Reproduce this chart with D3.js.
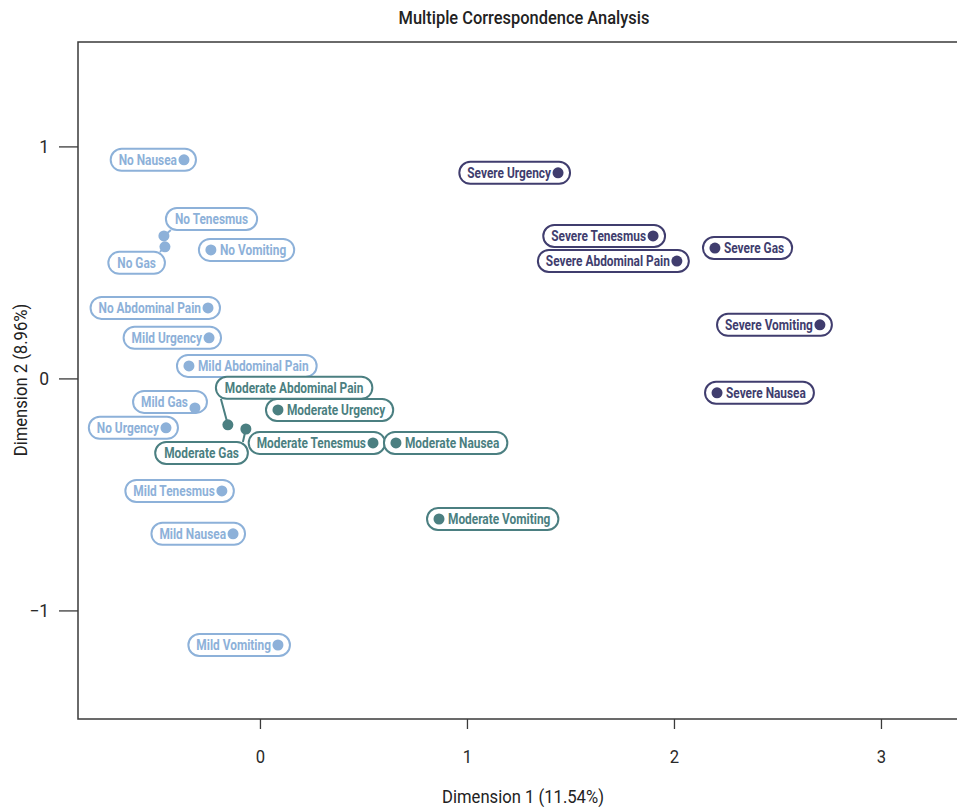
<!DOCTYPE html>
<html><head><meta charset="utf-8">
<script src="https://cdn.jsdelivr.net/npm/d3@7"></script>
<style>
html,body{margin:0;padding:0;background:#fff;overflow:hidden;}
svg{display:block;}
</style></head>
<body>
<script>
// ---- data ----
const categories = ["No Nausea","No Tenesmus","No Gas","No Vomiting","No Abdominal Pain","Mild Urgency","Mild Abdominal Pain","Mild Gas","No Urgency","Mild Tenesmus","Mild Nausea","Mild Vomiting","Moderate Abdominal Pain","Moderate Urgency","Moderate Gas","Moderate Tenesmus","Moderate Nausea","Moderate Vomiting","Severe Urgency","Severe Tenesmus","Severe Abdominal Pain","Severe Gas","Severe Vomiting","Severe Nausea"];
const dim1 = [-0.367,-0.464,-0.459,-0.237,-0.251,-0.246,-0.343,-0.314,-0.454,-0.184,-0.130,0.087,-0.155,0.087,-0.068,0.546,0.657,0.865,1.440,1.899,2.014,2.198,2.705,2.208];
const dim2 = [0.942,0.614,0.567,0.554,0.304,0.175,0.054,-0.127,-0.213,-0.485,-0.670,-1.149,-0.200,-0.136,-0.218,-0.278,-0.278,-0.606,0.886,0.614,0.506,0.562,0.231,-0.062];
const groups = ["low","low","low","low","low","low","low","low","low","low","low","low","moderate","moderate","moderate","moderate","moderate","moderate","severe","severe","severe","severe","severe","severe"];
const xTicks = [0,1,2,3];
const yTicks = [-1,0,1];
const chartTitle = "Multiple Correspondence Analysis";
const xTitle = "Dimension 1 (11.54%)";
const yTitle = "Dimension 2 (8.96%)";

// ---- layout / style (not data) ----
const colors = {low:"#8db1d9", moderate:"#4b7f81", severe:"#403d6e"};
// label placement: R = dot at right end of pill, L = dot at left end, C = callout box with offset
const placement = {
  "No Nausea":{t:"R"}, "No Tenesmus":{t:"C",anchor:"left",dx:2,dy:-17},
  "No Gas":{t:"C",anchor:"right",dx:0,dy:16}, "No Vomiting":{t:"L"},
  "No Abdominal Pain":{t:"R"}, "Mild Urgency":{t:"R"}, "Mild Abdominal Pain":{t:"L"},
  "Mild Gas":{t:"R",dy:-6}, "No Urgency":{t:"R"}, "Mild Tenesmus":{t:"R"},
  "Mild Nausea":{t:"R"}, "Mild Vomiting":{t:"R"},
  "Moderate Abdominal Pain":{t:"C",anchor:"left",dx:-12,dy:-37},
  "Moderate Urgency":{t:"L"}, "Moderate Gas":{t:"C",anchor:"right",dx:2,dy:24},
  "Moderate Tenesmus":{t:"R"}, "Moderate Nausea":{t:"L"}, "Moderate Vomiting":{t:"L"},
  "Severe Urgency":{t:"R"}, "Severe Tenesmus":{t:"R"}, "Severe Abdominal Pain":{t:"R"},
  "Severe Gas":{t:"L"}, "Severe Vomiting":{t:"R"}, "Severe Nausea":{t:"L"}
};

const W = 957, H = 807;
const mLeft = 78, mTop = 42, mBottom = 719, mRight = 1000;
const font = "Roboto,'Liberation Sans',sans-serif";
const labelSize = 14.5, titleSize = 17.5, axisSize = 17.5;

const svg = d3.select("body").append("svg").attr("width",W).attr("height",H);

// measure helper to get a horizontal condense factor matching the reference's narrow typeface
function measure(str, size, weight) {
  const t = svg.append("text").text(str).style("font-family",font)
    .style("font-size",size+"px").style("font-weight",weight);
  const w = t.node().getComputedTextLength();
  t.remove();
  return w;
}
const kLabel = 124 / measure("Severe Abdominal Pain", labelSize, "bold");
const kTitle = 251 / measure(chartTitle, titleSize, 500);
const kAxis = 162 / measure(xTitle, axisSize, "normal");

function ctext(parent, str, xx, yy, k, size, weight, fill, anchor) {
  const g = parent.append("g").attr("transform",`translate(${xx},${yy}) scale(${k},1)`);
  g.append("text").text(str).attr("text-anchor",anchor||"start")
    .style("font-family",font).style("font-size",size+"px").style("font-weight",weight)
    .attr("fill",fill);
  return g;
}

const x = d3.scaleLinear().domain([-0.879, 3.575]).range([mLeft, mRight]);
const y = d3.scaleLinear().domain([-1.468, 1.450]).range([mBottom, mTop]);

// frame
svg.append("rect").attr("x",mLeft).attr("y",mTop).attr("width",mRight-mLeft).attr("height",mBottom-mTop)
  .attr("fill","none").attr("stroke","#3a3a3a").attr("stroke-width",1.5);

const xa = svg.append("g").attr("transform",`translate(0,${mBottom})`)
  .call(d3.axisBottom(x).tickValues(xTicks).tickFormat(d3.format("d")).tickSize(10).tickPadding(22));
const ya = svg.append("g").attr("transform",`translate(${mLeft},0)`)
  .call(d3.axisLeft(y).tickValues(yTicks).tickFormat(d3.format("d")).tickSize(19).tickPadding(10));
[xa,ya].forEach(a=>{
  a.select(".domain").remove();
  a.selectAll(".tick line").attr("stroke","#3a3a3a").attr("stroke-width",1.3);
  a.selectAll(".tick text").attr("fill","#2a2a2a").style("font-family",font).style("font-size",axisSize+"px");
});
xa.selectAll(".tick text").attr("transform",`scale(${kAxis},1)`);

ctext(svg, chartTitle, 524, 24, kTitle, titleSize, 500, "#222", "middle");
ctext(svg, xTitle, 523, 803, kAxis, axisSize, "normal", "#222", "middle");
svg.append("g").attr("transform","translate(27,380) rotate(-90)")
  .call(g=>ctext(g, yTitle, 0, 0, kAxis, axisSize, "normal", "#222", "middle"));

// labels
const data = categories.map((c,i)=>({name:c, x:dim1[i], y:dim2[i], g:groups[i]}));
const lg = svg.append("g");
const boxH = 22, padText = 8, dotGap = 12;
data.forEach(d=>{
  const px = x(d.x), py = y(d.y);
  const col = colors[d.g];
  const p = placement[d.name];
  const g = lg.append("g");
  const conn = g.append("path");
  const rect = g.append("rect");
  const tw = measure(d.name, labelSize, "bold") * kLabel;
  let bx, bw, cy = py + (p.dy||0), tx;
  if (p.t === "R") {
    bw = tw + padText + 7 + dotGap;
    bx = px + dotGap - bw;
    tx = bx + padText;
  } else if (p.t === "L") {
    bw = tw + padText + 9 + dotGap;
    bx = px - dotGap;
    tx = px + 9;
  } else {
    bw = tw + 2*padText + 2;
    bx = p.anchor === "left" ? px + p.dx : px + p.dx - bw;
    tx = bx + padText + 1;
  }
  rect.attr("x",bx).attr("y",cy-boxH/2).attr("width",bw).attr("height",boxH)
    .attr("rx",boxH/2).attr("ry",boxH/2)
    .attr("fill","#fff").attr("stroke",col).attr("stroke-width",2);
  ctext(g, d.name, tx, cy+5.2, kLabel, labelSize, "bold", col, "start");
  if (p.t === "C") {
    const ex = p.anchor === "left" ? bx + 5 : bx + bw - 5;
    const ey = p.dy < 0 ? cy + boxH/2 : cy - boxH/2;
    conn.attr("d",`M${px},${py} L${ex},${ey}`).attr("stroke",col).attr("stroke-width",2).attr("fill","none");
  } else conn.remove();
  g.append("circle").attr("cx",px).attr("cy",py).attr("r",5.5).attr("fill",col);
});
</script>
</body></html>
